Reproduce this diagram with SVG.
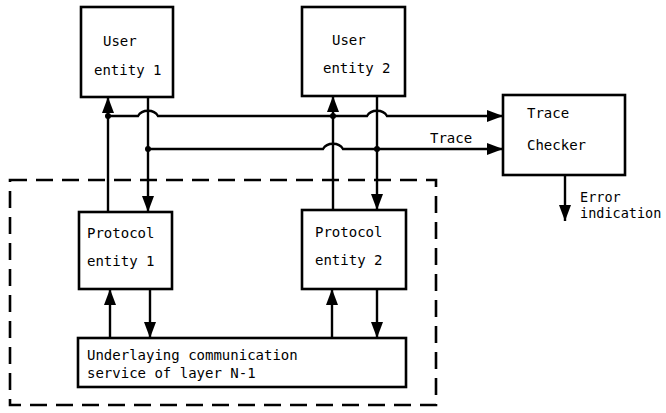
<svg xmlns="http://www.w3.org/2000/svg" width="666" height="413" viewBox="0 0 666 413">
  <defs>
    <marker id="arrow" markerUnits="userSpaceOnUse" markerWidth="16" markerHeight="12" refX="16" refY="6" orient="auto">
      <path d="M0,0 L16,6 L0,12 z" fill="#000"/>
    </marker>
    <style>
      .box { fill: #fff; stroke: #000; stroke-width: 2.6; }
      .frame { fill: none; stroke: #000; stroke-width: 2.6; stroke-dasharray: 17 9; }
      .line { fill: none; stroke: #000; stroke-width: 2.4; }
      .arr { marker-end: url(#arrow); }
      .dot { fill: #000; }
      text { font-family: "DejaVu Sans Mono", "Liberation Mono", monospace; font-size: 14px; fill: #000; }
      .small { font-size: 13.5px; }
    </style>
  </defs>
  <rect width="666" height="413" fill="#fff"/>

  <!-- layer N boundary -->
  <rect class="frame" x="10" y="180" width="426" height="225"/>

  <g id="connectors">
    <!-- user / protocol entity links -->
    <path class="line arr" d="M108,212 V97"/>
    <path class="line arr" d="M148,97 V212"/>
    <path class="line arr" d="M333,210 V96"/>
    <path class="line arr" d="M377,96 V210"/>
    <!-- protocol / underlying service links -->
    <path class="line arr" d="M110,338 V289"/>
    <path class="line arr" d="M150,289 V338"/>
    <path class="line arr" d="M332,338 V289"/>
    <path class="line arr" d="M377,289 V338"/>
    <!-- trace taps to checker -->
    <path class="line arr" d="M108,116 H138 C142,109 154,109 158,116 H367 C371,109 383,109 387,116 H503"/>
    <path class="line arr" d="M148,149 H323 C327,142 339,142 343,149 H503"/>
    <circle class="dot" cx="108" cy="116" r="3"/>
    <circle class="dot" cx="333" cy="116" r="3"/>
    <circle class="dot" cx="148" cy="149" r="3"/>
    <circle class="dot" cx="377" cy="149" r="3"/>
    <text x="430" y="143">Trace</text>
    <!-- error output -->
    <path class="line arr" d="M565,175 V221"/>
    <text class="small" x="580" y="202">Error</text>
    <text class="small" x="580" y="218">indication</text>
  </g>

  <g id="user1">
    <rect class="box" x="81" y="7" width="92" height="90"/>
    <text x="103" y="46">User</text>
    <text x="94" y="75">entity 1</text>
  </g>

  <g id="user2">
    <rect class="box" x="302" y="7" width="103" height="89"/>
    <text x="332" y="45">User</text>
    <text x="323" y="73">entity 2</text>
  </g>

  <g id="checker">
    <rect class="box" x="503" y="95" width="122" height="80"/>
    <text x="527" y="118">Trace</text>
    <text x="527" y="150">Checker</text>
  </g>

  <g id="protocol1">
    <rect class="box" x="79" y="212" width="93" height="77"/>
    <text x="87" y="238">Protocol</text>
    <text x="87" y="266">entity 1</text>
  </g>

  <g id="protocol2">
    <rect class="box" x="302" y="210" width="104" height="79"/>
    <text x="315" y="237">Protocol</text>
    <text x="315" y="265">entity 2</text>
  </g>

  <g id="service">
    <rect class="box" x="78" y="338" width="328" height="49"/>
    <text x="87" y="360">Underlaying communication</text>
    <text x="87" y="378">service of layer N-1</text>
  </g>
</svg>
